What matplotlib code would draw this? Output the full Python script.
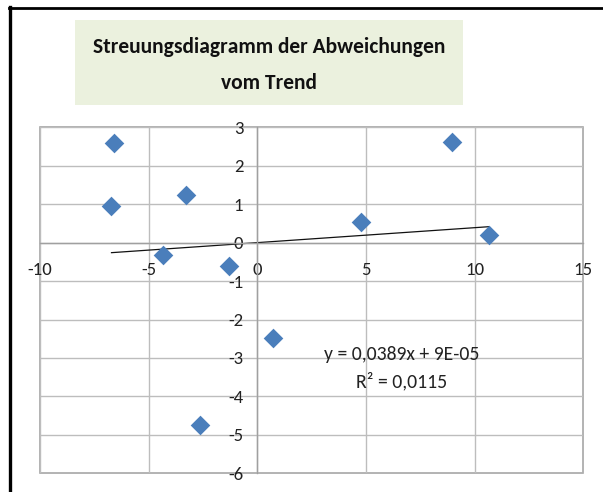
import matplotlib
matplotlib.use("Agg")
import matplotlib.pyplot as plt
from matplotlib.lines import Line2D
from matplotlib.patches import Rectangle

# data
x_vals = [-6.61, -6.71, -3.27, -4.36, -1.31, 8.95, 4.77, 10.66, 0.74, -2.66]
y_vals = [2.59, 0.95, 1.23, -0.33, -0.60, 2.61, 0.53, 0.20, -2.48, -4.74]
trend_slope = 0.0389
trend_intercept = 9e-05
x_ticks = [-10, -5, 0, 5, 10, 15]
y_ticks = [3, 2, 1, 0, -1, -2, -3, -4, -5, -6]
title = "Streuungsdiagramm der Abweichungen\nvom Trend"
eq_text = "y = 0,0389x + 9E-05\nR² = 0,0115"

W, H = 603, 492
fig = plt.figure(figsize=(W / 100, H / 100), dpi=100)
fig.patch.set_facecolor("white")

fam = ["Carlito", "DejaVu Sans"]

ax = fig.add_axes([40 / W, (H - 473.3) / H, (583.3 - 40) / W, (473.3 - 127.3) / H])
ax.set_xlim(-10, 15)
ax.set_ylim(-6, 3)
ax.set_xticks(x_ticks)
ax.set_yticks(y_ticks)
ax.grid(True, color="#bdbdbd", linewidth=1.0)
ax.set_axisbelow(True)
ax.patch.set_edgecolor("#a6a6a6")
ax.patch.set_linewidth(1.2)

for s in ["top", "right"]:
    ax.spines[s].set_visible(False)
ax.spines["left"].set_position(("data", 0))
ax.spines["bottom"].set_position(("data", 0))
for s in ["left", "bottom"]:
    ax.spines[s].set_color("#a0a0a0")
    ax.spines[s].set_linewidth(1.0)
ax.tick_params(length=0, labelsize=13.5, colors="#222222")
ax.tick_params(axis="x", pad=14)
ax.tick_params(axis="y", pad=10)
ax.set_xticklabels([str(v) for v in x_ticks], family=fam)
ax.set_yticklabels([str(v) for v in y_ticks], family=fam)

ax.scatter(x_vals, y_vals, marker="D", s=100, color="#4a7ebb", zorder=3, linewidths=0)

xmin, xmax = min(x_vals), max(x_vals)
ax.plot([xmin, xmax], [trend_slope * xmin + trend_intercept, trend_slope * xmax + trend_intercept],
        color="#111111", linewidth=0.9, zorder=2)

ax.text(6.64, -3.27, eq_text, ha="center", va="center", fontsize=14.2, family=fam,
        color="#222222", linespacing=1.6)

# title box
fig.add_artist(Rectangle((75 / W, 1 - 105 / H), (463 - 75) / W, (105 - 20) / H,
                         transform=fig.transFigure, facecolor="#ebf1de", edgecolor="none"))
fig.text(269 / W, 1 - 65.5 / H, title, ha="center", va="center", fontsize=15.5,
         family=fam, fontweight="bold", color="#111111", linespacing=2.0)

# outer frame
fig.add_artist(Line2D([9 / W, 1], [1 - 8 / H, 1 - 8 / H], transform=fig.transFigure,
                      color="black", linewidth=2.0))
fig.add_artist(Line2D([9.5 / W, 9.5 / W], [0, 1 - 7 / H], transform=fig.transFigure,
                      color="black", linewidth=2.4))

fig.savefig("out.png", dpi=100)
